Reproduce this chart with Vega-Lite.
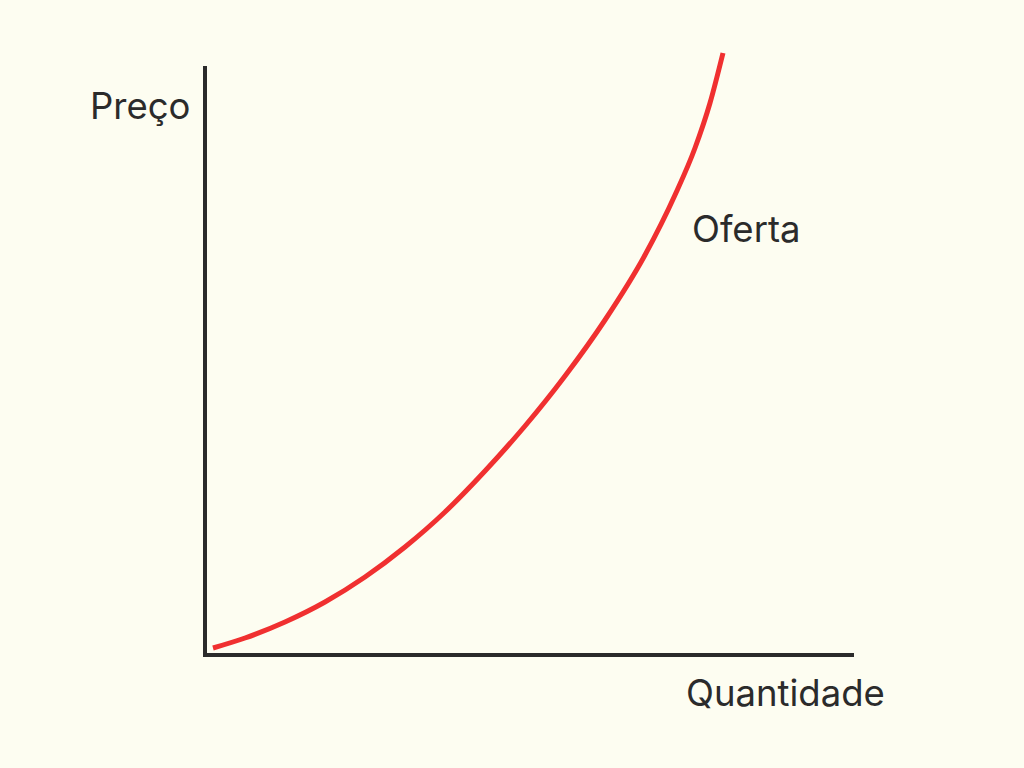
{
  "$schema": "https://vega.github.io/schema/vega-lite/v6.json",
  "width": 647,
  "height": 587,
  "autosize": {"type": "none"},
  "padding": {"left": 205, "top": 68, "right": 172, "bottom": 113},
  "background": "#fdfdf1",
  "config": {"view": {"stroke": null}},
  "datasets": {
    "curve": [
      {"q": 8, "p": 7},
      {"q": 40, "p": 17},
      {"q": 80, "p": 33},
      {"q": 120, "p": 53},
      {"q": 160, "p": 78},
      {"q": 200, "p": 108},
      {"q": 240, "p": 143},
      {"q": 280, "p": 184},
      {"q": 320, "p": 229},
      {"q": 360, "p": 279},
      {"q": 400, "p": 335},
      {"q": 440, "p": 400},
      {"q": 470, "p": 460},
      {"q": 490, "p": 507},
      {"q": 505, "p": 552},
      {"q": 518, "p": 602}
    ],
    "axes": [
      {"x": 0, "x2": 0, "y": 0, "y2": 587},
      {"x": 0, "x2": 647, "y": 0, "y2": 0}
    ],
    "labels": [
      {"x": -115, "y": 536, "t": "Preço"},
      {"x": 487, "y": 413, "t": "Oferta"},
      {"x": 481, "y": -51, "t": "Quantidade"}
    ]
  },
  "layer": [
    {
      "data": {"name": "axes"},
      "mark": {"type": "rule", "color": "#2b2b2b", "strokeWidth": 4, "strokeCap": "square", "clip": false},
      "encoding": {
        "x": {"field": "x", "type": "quantitative", "scale": {"domain": [0, 647], "nice": false, "zero": false}, "axis": null},
        "x2": {"field": "x2"},
        "y": {"field": "y", "type": "quantitative", "scale": {"domain": [0, 587], "nice": false, "zero": false}, "axis": null},
        "y2": {"field": "y2"}
      }
    },
    {
      "data": {"name": "curve"},
      "mark": {"type": "line", "color": "#f03030", "strokeWidth": 5, "interpolate": "monotone", "clip": false},
      "encoding": {
        "x": {"field": "q", "type": "quantitative", "scale": {"domain": [0, 647], "nice": false, "zero": false}, "axis": null},
        "y": {"field": "p", "type": "quantitative", "scale": {"domain": [0, 587], "nice": false, "zero": false}, "axis": null}
      }
    },
    {
      "data": {"name": "labels"},
      "mark": {"type": "text", "align": "left", "baseline": "alphabetic", "font": "Inter", "fontSize": 36.5, "color": "#2b2b2b", "clip": false},
      "encoding": {
        "x": {"field": "x", "type": "quantitative", "scale": {"domain": [0, 647], "nice": false, "zero": false}, "axis": null},
        "y": {"field": "y", "type": "quantitative", "scale": {"domain": [0, 587], "nice": false, "zero": false}, "axis": null},
        "text": {"field": "t"}
      }
    }
  ]
}
